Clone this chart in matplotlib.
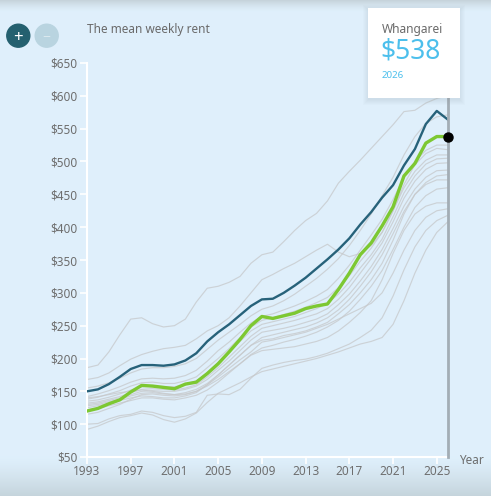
import numpy as np
import matplotlib.pyplot as plt
from matplotlib.patches import Circle, Rectangle

# mean weekly rent per year, 1993 - 2026
years = list(range(1993, 2027))

whangarei = [120, 124, 131, 137, 149, 159, 158, 156, 154, 161,
             164, 177, 192, 210, 229, 250, 264, 261, 265, 269,
             276, 280, 283, 305, 330, 358, 376, 402, 431, 478,
             497, 528, 538, 538]

national = [150, 153, 161, 172, 184, 190, 190, 189, 191, 197,
            208, 226, 240, 252, 266, 280, 290, 291, 300, 311,
            323, 337, 351, 366, 383, 404, 423, 445, 464, 494,
            519, 557, 577, 564]

# other regions (grey)
auckland = [186, 190, 210, 236, 260, 262, 253, 248, 250, 260,
            286, 307, 310, 316, 325, 345, 358, 362, 378, 395,
            410, 421, 440, 467, 485, 502, 520, 538, 556, 576,
            578, 589, 596, 600]
christchurch = [168, 171, 178, 189, 199, 206, 211, 215, 217, 220,
                230, 242, 250, 262, 280, 300, 320, 328, 337, 345,
                355, 365, 374, 362, 355, 360, 372, 392, 425, 465,
                495, 512, 520, 518]
tauranga = [155, 158, 163, 170, 178, 184, 186, 186, 188, 192,
            200, 214, 228, 240, 252, 265, 275, 280, 288, 298,
            310, 322, 336, 352, 372, 395, 420, 448, 476, 510,
            538, 558, 568, 571]
hamilton = [142, 146, 151, 157, 164, 169, 170, 169, 170, 174,
            182, 196, 212, 225, 240, 254, 264, 268, 274, 280,
            287, 295, 305, 322, 342, 365, 388, 412, 442, 476,
            500, 517, 525, 525]
nelson = [138, 141, 146, 151, 158, 163, 164, 162, 162, 166,
          172, 186, 200, 215, 232, 248, 258, 262, 267, 272,
          278, 285, 293, 308, 326, 348, 368, 392, 425, 460,
          485, 502, 510, 510]
napier = [135, 137, 141, 146, 152, 157, 158, 157, 157, 160,
          166, 178, 194, 210, 226, 242, 252, 256, 260, 264,
          270, 276, 284, 298, 316, 338, 358, 382, 416, 452,
          478, 496, 504, 505]
new_plymouth = [132, 134, 138, 142, 148, 153, 154, 153, 152, 155,
                160, 172, 186, 202, 218, 234, 246, 250, 254, 258,
                263, 268, 276, 290, 308, 330, 352, 376, 408, 444,
                470, 488, 497, 498]
palmerston_north = [130, 132, 136, 140, 145, 150, 151, 150, 150, 153,
                    158, 168, 182, 196, 212, 228, 240, 243, 246, 250,
                    255, 260, 268, 282, 298, 318, 340, 366, 398, 432,
                    458, 476, 486, 487]
rotorua = [128, 130, 134, 138, 143, 147, 148, 146, 145, 148,
           153, 162, 175, 190, 205, 220, 232, 236, 240, 244,
           248, 254, 262, 274, 290, 310, 332, 358, 390, 424,
           450, 468, 478, 480]
masterton = [125, 128, 132, 136, 140, 143, 142, 140, 140, 143,
             148, 160, 175, 190, 205, 220, 228, 230, 235, 238,
             242, 248, 255, 268, 282, 300, 320, 345, 380, 420,
             450, 465, 472, 472]
gisborne = [122, 124, 128, 132, 136, 140, 140, 138, 137, 140,
            144, 152, 164, 178, 192, 206, 216, 220, 225, 229,
            234, 240, 248, 258, 272, 290, 310, 334, 366, 400,
            430, 448, 458, 460]
dunedin = [140, 142, 145, 148, 150, 152, 150, 147, 145, 146,
           150, 158, 168, 180, 192, 205, 212, 214, 216, 218,
           222, 226, 232, 242, 255, 270, 288, 320, 360, 395,
           420, 432, 437, 437]
invercargill = [115, 118, 124, 130, 138, 145, 146, 144, 143, 145,
                150, 160, 172, 185, 198, 210, 225, 228, 232, 236,
                240, 246, 252, 260, 268, 276, 284, 300, 330, 365,
                395, 415, 425, 428]
whanganui = [100, 101, 108, 113, 115, 120, 118, 113, 110, 112,
             118, 144, 146, 145, 153, 170, 185, 190, 194, 197,
             199, 203, 208, 215, 222, 232, 243, 262, 295, 335,
             370, 395, 410, 418]
west_coast = [92, 97, 104, 110, 113, 117, 114, 107, 103, 108,
              117, 133, 147, 155, 163, 172, 180, 184, 188, 192,
              196, 200, 205, 210, 216, 222, 226, 232, 252, 288,
              330, 365, 392, 408]

others = [auckland, christchurch, tauranga, hamilton, nelson, napier,
          new_plymouth, palmerston_north, rotorua, masterton, gisborne,
          dunedin, invercargill, whanganui, west_coast]

yticks = list(range(50, 651, 50))
xticks = list(range(1993, 2026, 4))

plt.rcParams['font.family'] = ['Noto Sans', 'DejaVu Sans']

W, H = 491, 496
fig = plt.figure(figsize=(W / 100, H / 100), dpi=100)

# page background with header / footer shading
bg = fig.add_axes([0, 0, 1, 1], zorder=0)
base = np.array([0.875, 0.941, 0.988])
shade = np.array([0.78, 0.83, 0.86])
rows = np.ones((H, 1, 3)) * base
for r in range(12):
    t = (1 - r / 12) ** 1.5
    rows[r, 0] = base * (1 - t) + shade * t
for r in range(455, H):
    t = ((r - 455) / (H - 455)) ** 1.3
    rows[r, 0] = base * (1 - t) + np.array([0.77, 0.83, 0.86]) * t
bg.imshow(rows, aspect='auto', extent=[0, W, H, 0])
bg.set_xlim(0, W)
bg.set_ylim(H, 0)
bg.axis('off')

# main chart
ax = fig.add_axes([87 / W, 39 / H, 360.7 / W, 394 / H], zorder=1)
ax.set_facecolor('none')
for y in others:
    ax.plot(years, y, color='#c6c8ca', lw=0.85, alpha=0.75, zorder=2)
ax.plot(years, national, color='#27627a', lw=1.7, zorder=3)
ax.plot(years, whangarei, color='#7dc832', lw=2.4, zorder=4)

ax.axvline(years[-1], color='#a3adb5', lw=2, zorder=3, clip_on=False)
ax.plot([years[-1]], [whangarei[-1]], 'o', color='black', ms=6.5, zorder=5, clip_on=False)

ax.set_xlim(1993, 2026)
ax.set_ylim(50, 650)
ax.set_yticks(yticks)
ax.set_yticklabels(['${}'.format(v) for v in yticks])
ax.set_xticks(xticks)
for s in ['top', 'right']:
    ax.spines[s].set_visible(False)
for s in ['left', 'bottom']:
    ax.spines[s].set_color('white')
    ax.spines[s].set_linewidth(1.5)
ax.tick_params(colors='white', labelcolor='#6e6e6e', labelsize=8.5, length=5, width=1.2)
ax.tick_params(axis='y', pad=2)
ax.tick_params(axis='x', pad=1)

# overlay in pixel coordinates
ov = fig.add_axes([0, 0, 1, 1], zorder=3)
ov.set_xlim(0, W)
ov.set_ylim(H, 0)
ov.axis('off')

ov.text(87, 30, 'The mean weekly rent', fontsize=8.5, color='#6a6a6a', va='center', ha='left')
ov.text(459, 460, 'Year', fontsize=8.5, color='#6e6e6e', va='center', ha='left')

ov.add_patch(Circle((18.3, 35.7), 11.5, color='#24606f'))
ov.text(18.3, 37.5, '+', color='white', fontsize=12, ha='center', va='center', fontweight='bold')
ov.add_patch(Circle((46.7, 35.7), 11.5, color='#b9d4e0'))
ov.text(46.7, 36.5, '\u2212', color='#dbe9ef', fontsize=10, ha='center', va='center')

# tooltip
for k in range(6):
    ov.add_patch(Rectangle((367.7 - k, 8 - k + 2), 92.3 + 2 * k, 89.7 + 2 * k,
                           color='#90a4b0', alpha=0.035, lw=0))
ov.add_patch(Rectangle((367.7, 8), 92.3, 89.7, color='white', lw=0))
ov.text(381.5, 29.5, 'Whangarei', fontsize=8.6, color='#6a6a6a', va='center', ha='left')
ov.text(380.5, 52, '${}'.format(whangarei[-1]), fontsize=19, color='#4cbfec', va='center', ha='left')
ov.text(381.5, 76, str(years[-1]), fontsize=7, color='#4cbfec', va='center', ha='left')

fig.savefig('out.png', dpi=100)
